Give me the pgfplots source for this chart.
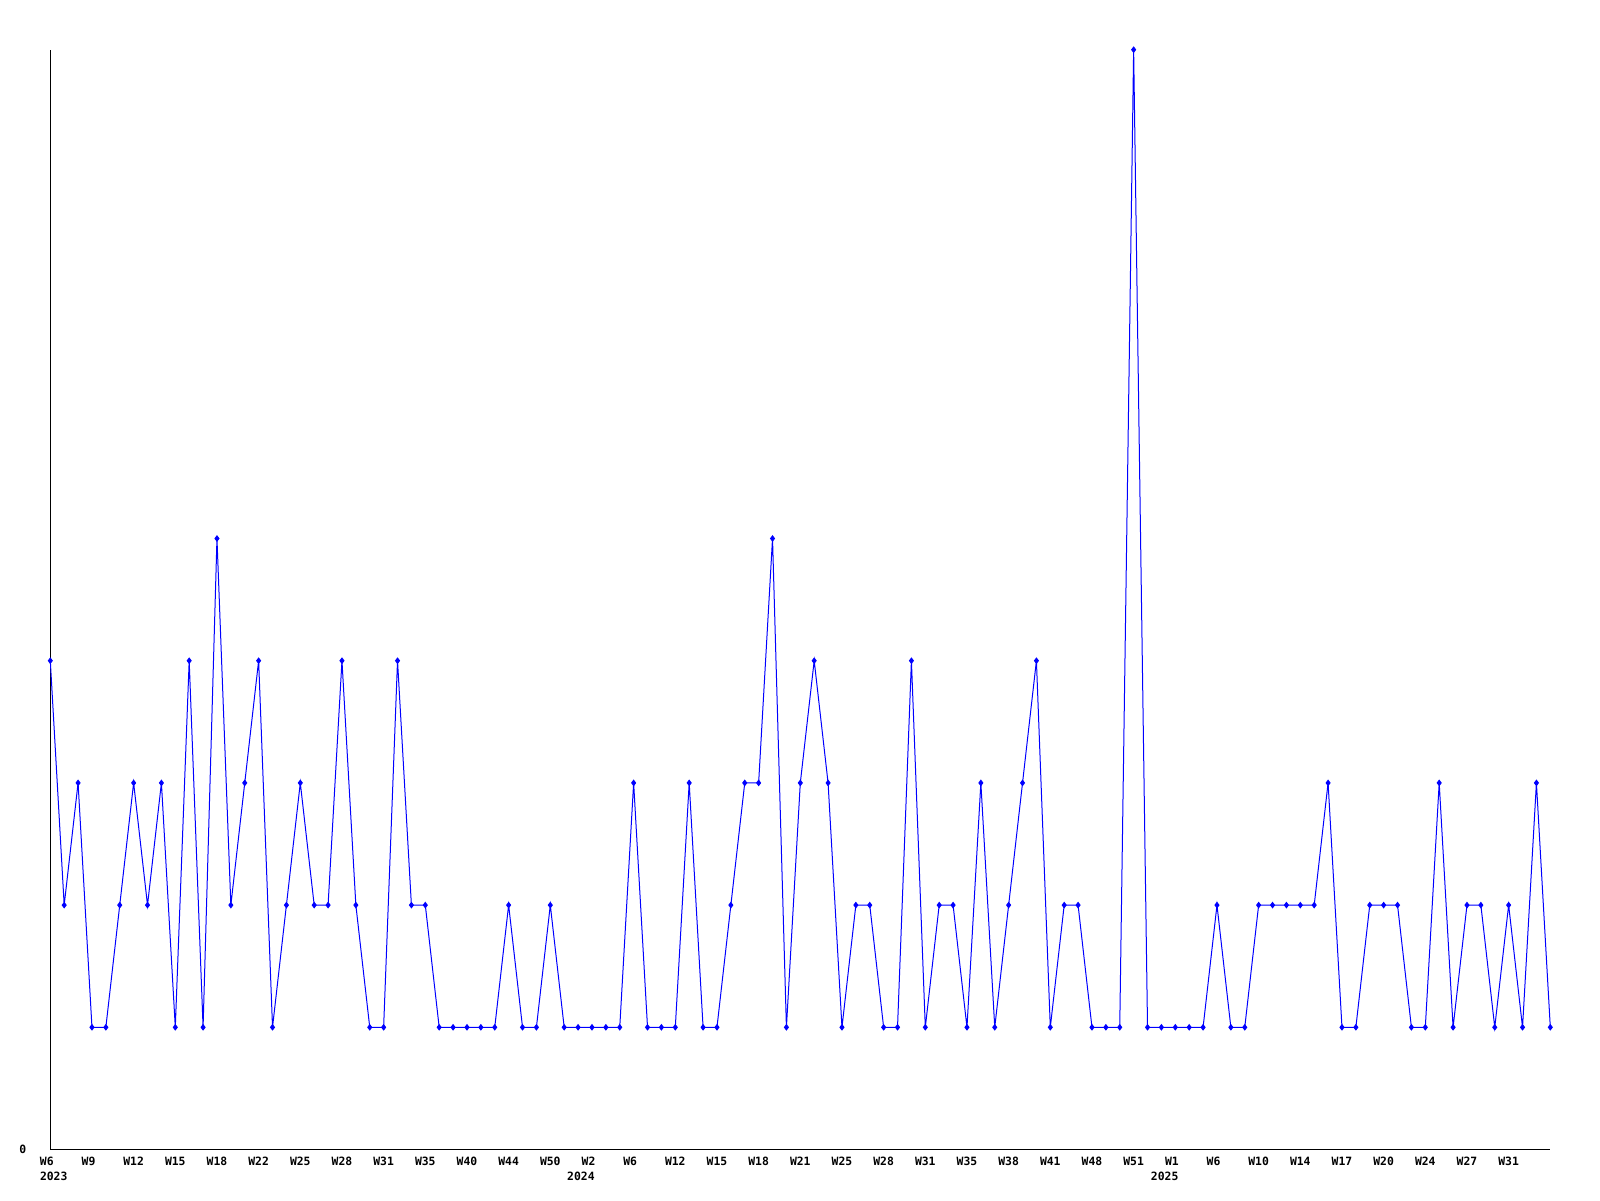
\documentclass[border=0pt]{standalone}
\usepackage{pgfplots}
\pgfplotsset{compat=1.18}
\usepackage{fontspec}
\setmonofont{DejaVu Sans Mono}
\pgfplotstableread{
x y
0 4
1 2
2 3
3 1
4 1
5 2
6 3
7 2
8 3
9 1
10 4
11 1
12 5
13 2
14 3
15 4
16 1
17 2
18 3
19 2
20 2
21 4
22 2
23 1
24 1
25 4
26 2
27 2
28 1
29 1
30 1
31 1
32 1
33 2
34 1
35 1
36 2
37 1
38 1
39 1
40 1
41 1
42 3
43 1
44 1
45 1
46 3
47 1
48 1
49 2
50 3
51 3
52 5
53 1
54 3
55 4
56 3
57 1
58 2
59 2
60 1
61 1
62 4
63 1
64 2
65 2
66 1
67 3
68 1
69 2
70 3
71 4
72 1
73 2
74 2
75 1
76 1
77 1
78 9
79 1
80 1
81 1
82 1
83 1
84 2
85 1
86 1
87 2
88 2
89 2
90 2
91 2
92 3
93 1
94 1
95 2
96 2
97 2
98 1
99 1
100 3
101 1
102 2
103 2
104 1
105 2
106 1
107 3
108 1
}\datatable
\begin{document}
\begin{tikzpicture}
\path[use as bounding box] (-25.15pt,-25.25pt) rectangle (774.85pt,574.75pt);
\begin{axis}[
  at={(0,0)}, anchor=south west,
  scale only axis, width=750pt, height=549.9pt,
  xmin=0, xmax=108, ymin=0, ymax=9,
  axis lines*=left,
  axis line style={black, line width=0.5pt},
  clip=false,
  major tick length=0pt,
  xtick={0,3,...,105},
  xticklabels={W6,W9,W12,W15,W18,W22,W25,W28,W31,W35,W40,W44,W50,W2,W6,W12,W15,W18,W21,W25,W28,W31,W35,W38,W41,W48,W51,W1,W6,W10,W14,W17,W20,W24,W27,W31},
  ytick={0}, yticklabels={0},
  font=\ttfamily\bfseries\fontsize{5.7}{6}\selectfont,
  xticklabel style={anchor=base west, inner sep=0pt, xshift=-5.35pt, yshift=-7.85pt},
  yticklabel style={anchor=base, inner sep=0pt, xshift=-13.8pt, yshift=-2.2pt},
]
\addplot[color={rgb,255:red,0;green,0;blue,255}, line width=0.5pt, mark=diamond*, mark size=1.3pt, mark options={solid}] table[x=x,y=y] {\datatable};
\node[anchor=base west, inner sep=0pt, yshift=-15.25pt, font=\ttfamily\bfseries\fontsize{5.7}{6}\selectfont] at (axis cs:-0.77,0) {2023};
\node[anchor=base west, inner sep=0pt, yshift=-15.25pt, font=\ttfamily\bfseries\fontsize{5.7}{6}\selectfont] at (axis cs:37.19,0) {2024};
\node[anchor=base west, inner sep=0pt, yshift=-15.25pt, font=\ttfamily\bfseries\fontsize{5.7}{6}\selectfont] at (axis cs:79.22,0) {2025};
\end{axis}
\end{tikzpicture}
\end{document}
